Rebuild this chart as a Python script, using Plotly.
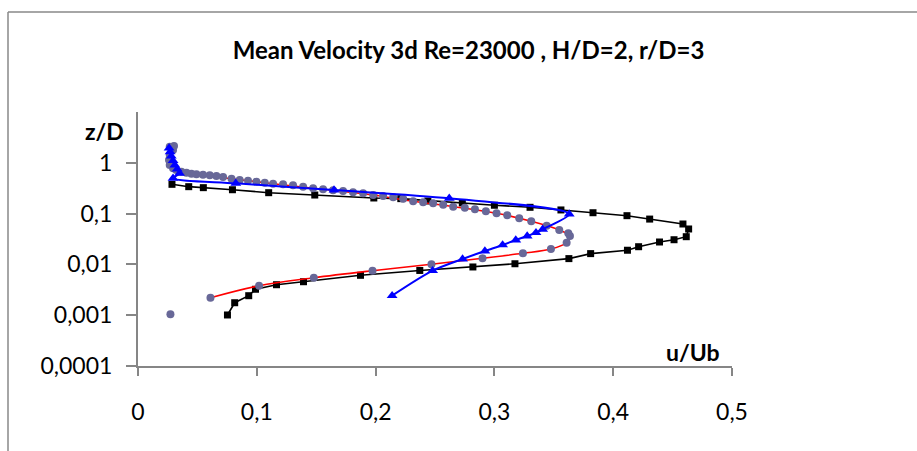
import plotly.graph_objects as go

# ---- data ----
black_u = [0.0753, 0.0814, 0.0932, 0.0989, 0.1166, 0.1393, 0.1873, 0.2372, 0.2819, 0.3173,
           0.3627, 0.381, 0.412, 0.4214, 0.439, 0.4512, 0.4615, 0.4635, 0.4587, 0.4307,
           0.4116, 0.383, 0.356, 0.330, 0.300, 0.273, 0.244, 0.2212, 0.1985, 0.1488,
           0.110, 0.0795, 0.0550, 0.0427, 0.0286]
black_z = [0.00101, 0.00176, 0.00242, 0.00324, 0.00398, 0.00456, 0.0061, 0.0076, 0.0089, 0.0103,
           0.0130, 0.0163, 0.0190, 0.0223, 0.0276, 0.0306, 0.0351, 0.0498, 0.0624, 0.078,
           0.091, 0.104, 0.118, 0.133, 0.146, 0.162, 0.177, 0.197, 0.203, 0.232,
           0.258, 0.295, 0.324, 0.339, 0.377]

dots_u = [0.0273, 0.061, 0.1019, 0.148, 0.1974, 0.247, 0.290, 0.324, 0.3476, 0.3608,
          0.3636, 0.3622, 0.3546, 0.344, 0.331, 0.3209, 0.3108, 0.3018, 0.2928, 0.2836,
          0.2751, 0.2653, 0.2569, 0.2484, 0.240, 0.2316, 0.2232, 0.2148, 0.2063, 0.198,
          0.1895, 0.181, 0.1726, 0.1642, 0.1558, 0.1474, 0.139, 0.1305, 0.1221, 0.1137,
          0.1067, 0.0997, 0.0926, 0.0856, 0.0787, 0.0716, 0.066, 0.0604, 0.0547, 0.0492,
          0.045, 0.0408, 0.0365, 0.0323, 0.0295, 0.0267, 0.0261, 0.0267, 0.0295, 0.0303,
          0.0267]
dots_z = [0.00104, 0.00221, 0.00381, 0.00547, 0.00752, 0.01005, 0.0132, 0.01655, 0.0201, 0.0267,
          0.0362, 0.0409, 0.0475, 0.0578, 0.0705, 0.0808, 0.0927, 0.1014, 0.111, 0.1216,
          0.1306, 0.1367, 0.1497, 0.1595, 0.1667, 0.1746, 0.197, 0.209, 0.222, 0.232,
          0.251, 0.262, 0.279, 0.288, 0.301, 0.315, 0.339, 0.360, 0.377, 0.388,
          0.406, 0.425, 0.445, 0.459, 0.486, 0.525, 0.550, 0.566, 0.583, 0.593,
          0.610, 0.638, 0.668, 0.722, 0.778, 0.906, 1.14, 1.43, 1.79, 2.14,
          2.07]

red_u = [0.061, 0.1019, 0.148, 0.1974, 0.247, 0.290, 0.324, 0.3476, 0.3608, 0.3636,
         0.3546, 0.331, 0.3018, 0.2653, 0.2316, 0.198, 0.1558, 0.1137, 0.0787, 0.0492, 0.0365]
red_z = [0.00221, 0.00381, 0.00547, 0.00752, 0.01005, 0.0132, 0.01655, 0.0201, 0.0267, 0.0362,
         0.0475, 0.0705, 0.1014, 0.1367, 0.1746, 0.232, 0.301, 0.388, 0.486, 0.593, 0.668]

blue_u = [0.2139, 0.248, 0.2732, 0.292, 0.3069, 0.318, 0.3276, 0.335, 0.3406, 0.363,
          0.262, 0.165, 0.0823, 0.0295, 0.035, 0.033, 0.031, 0.0295, 0.028, 0.027, 0.0262]
blue_z = [0.00242, 0.00752, 0.01277, 0.01836, 0.0241, 0.0302, 0.0362, 0.0421, 0.0491, 0.0982,
          0.2, 0.2915, 0.395, 0.495, 0.62, 0.75, 0.9, 1.1, 1.35, 1.65, 1.95]

x_ticks = [0, 0.1, 0.2, 0.3, 0.4, 0.5]
x_labels = ["0", "0,1", "0,2", "0,3", "0,4", "0,5"]
y_ticks = [0.0001, 0.001, 0.01, 0.1, 1]
y_labels = ["0,0001", "0,001", "0,01", "0,1", "1"]

TITLE = "Mean Velocity 3d Re=23000 , H/D=2, r/D=3"
FONT = "Lato"

fig = go.Figure()
fig.add_trace(go.Scatter(x=black_u, y=black_z, mode="lines+markers",
                         line=dict(color="black", width=1.6),
                         marker=dict(symbol="square", size=7, color="black")))
fig.add_trace(go.Scatter(x=red_u, y=red_z, mode="lines",
                         line=dict(color="#FF0000", width=1.6, shape="spline", smoothing=1.0)))
fig.add_trace(go.Scatter(x=dots_u, y=dots_z, mode="markers",
                         marker=dict(symbol="circle", size=8, color="#686898")))
fig.add_trace(go.Scatter(x=blue_u, y=blue_z, mode="lines+markers",
                         line=dict(color="#0000FF", width=2, shape="spline", smoothing=0.8),
                         marker=dict(symbol="triangle-up", size=9.5, color="#0000FF")))

L, R, T, B = 138, 917 - 732, 112, 451 - 366
pw, ph = 917 - L - R, 451 - T - B

def px(x):
    return (x - L) / pw

def py(y):
    return (451 - B - y) / ph

fig.update_layout(
    width=917, height=451,
    margin=dict(l=L, r=R, t=T, b=B, pad=0),
    paper_bgcolor="white", plot_bgcolor="white",
    showlegend=False,
    font=dict(family=FONT, color="black"),
    title=dict(text="<b>" + TITLE + "</b>", xref="container", yref="container",
               x=468.5 / 917, y=1 - 51 / 451, xanchor="center", yanchor="middle",
               font=dict(family=FONT, size=24, color="black")),
    xaxis=dict(range=[0, 0.5], tickvals=x_ticks, ticktext=x_labels,
               showline=True, linecolor="#868686", linewidth=2,
               ticks="outside", ticklen=8, tickcolor="#868686", tickwidth=1.5,
               showgrid=False, zeroline=False, ticklabelstandoff=16,
               tickfont=dict(family=FONT, size=23, color="black")),
    yaxis=dict(type="log", range=[-4, 1], tickvals=y_ticks, ticktext=y_labels,
               showline=True, linecolor="#868686", linewidth=2,
               ticks="outside", ticklen=10, tickcolor="#868686", tickwidth=1.5,
               showgrid=False, zeroline=False, ticklabelstandoff=9,
               tickfont=dict(family=FONT, size=23, color="black")),
    annotations=[
        dict(text="<b>z/D</b>", xref="paper", yref="paper", x=px(104), y=py(131),
             xanchor="center", yanchor="middle", showarrow=False,
             font=dict(family=FONT, size=23, color="black")),
        dict(text="<b>u/Ub</b>", xref="paper", yref="paper", x=px(693), y=py(351.5),
             xanchor="center", yanchor="middle", showarrow=False,
             font=dict(family=FONT, size=23, color="black")),
    ],
    shapes=[
        dict(type="line", xref="paper", yref="paper", x0=px(8), x1=px(940), y0=py(12), y1=py(12),
             line=dict(color="#888888", width=1.5)),
        dict(type="line", xref="paper", yref="paper", x0=px(8), x1=px(8), y0=py(12), y1=py(470),
             line=dict(color="#888888", width=1.5)),
    ],
)

fig.write_html("out.html")
